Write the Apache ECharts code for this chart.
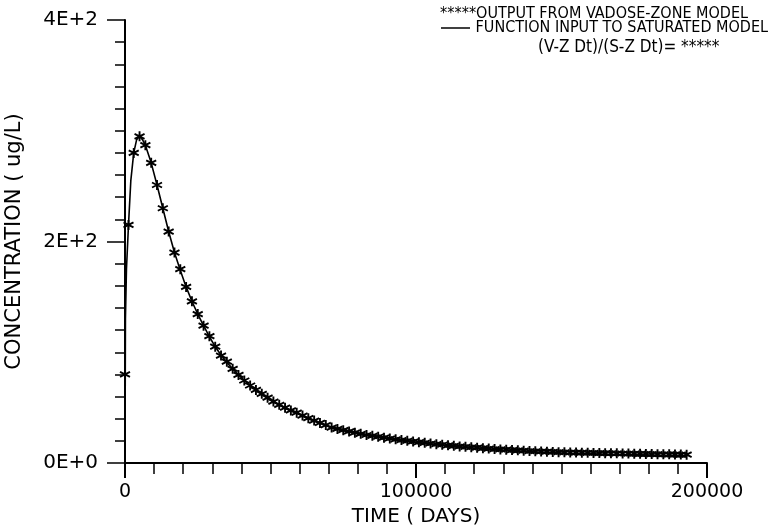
<!DOCTYPE html>
<html>
<head>
<meta charset="utf-8">
<script src="https://cdn.jsdelivr.net/npm/echarts@6/dist/echarts.min.js"></script>
<style>
html,body{margin:0;padding:0;background:#fff;}
#chart{width:772px;height:529px;}
</style>
</head>
<body>
<div id="chart"></div>
<script>
// ---- data ----
const xTickLabels = ['0', '100000', '200000'];
const yTickLabels = ['0E+0', '2E+2', '4E+2'];
const xAxisTitle = 'TIME ( DAYS)';
const yAxisTitle = 'CONCENTRATION ( ug/L)';
const legendOutput = '*****OUTPUT FROM VADOSE-ZONE MODEL';
const legendFunction = 'FUNCTION INPUT TO SATURATED MODEL';
const legendRatio = '(V-Z Dt)/(S-Z Dt)= *****';

// OUTPUT FROM VADOSE-ZONE MODEL (asterisk markers)
const markerTimes = [0, 1200, 3000, 5000, 7000, 9000, 11000, 13000, 15000, 17000, 19000,
  21000, 23000, 25000, 27000, 29000, 31000, 33000, 35000, 37000, 39000,
  41000, 43000, 45000, 47000, 49000, 51000, 53000, 55000, 57000, 59000,
  61000, 63000, 65000, 67000, 69000, 71000, 73000, 75000, 77000, 79000,
  81000, 83000, 85000, 87000, 89000, 91000, 93000, 95000, 97000, 99000,
  101000, 103000, 105000, 107000, 109000, 111000, 113000, 115000, 117000, 119000,
  121000, 123000, 125000, 127000, 129000, 131000, 133000, 135000, 137000, 139000,
  141000, 143000, 145000, 147000, 149000, 151000, 153000, 155000, 157000, 159000,
  161000, 163000, 165000, 167000, 169000, 171000, 173000, 175000, 177000, 179000,
  181000, 183000, 185000, 187000, 189000, 191000, 193000];
const markerValues = [80, 215, 280, 295, 287, 271, 251, 230, 209, 190, 175,
  159, 146, 134.5, 124, 114.5, 105, 97, 91.5, 85, 79.5,
  74.5, 70, 66, 62.5, 59, 55.5, 52.5, 50, 47.5, 45.4,
  42.8, 40.5, 38.3, 36.2, 34.2, 32, 30.8, 29.6, 28.5, 27.4,
  26.3, 25.3, 24.5, 23.7, 22.9, 22.1, 21.4, 20.7, 20.0, 19.4,
  18.8, 18.2, 17.6, 17.0, 16.5, 16.0, 15.5, 15.0, 14.6, 14.2,
  13.8, 13.4, 13.0, 12.6, 12.3, 12.0, 11.7, 11.4, 11.1, 10.8,
  10.6, 10.4, 10.2, 10.0, 9.8, 9.6, 9.5, 9.4, 9.3, 9.2,
  9.1, 9.0, 8.9, 8.8, 8.7, 8.6, 8.5, 8.4, 8.3, 8.2,
  8.1, 8.0, 7.9, 7.8, 7.7, 7.6, 7.5];

// FUNCTION INPUT TO SATURATED MODEL (solid line)
const lineTimes = [0, 150, 500, 1200, 2000, 3000, 4000, 5000, 6000,
  7000, 9000, 11000, 13000, 15000, 17000, 19000,
  21000, 23000, 25000, 27000, 29000, 31000, 33000, 35000, 37000, 39000,
  41000, 43000, 45000, 47000, 49000, 51000, 53000, 55000, 57000, 59000,
  61000, 63000, 65000, 67000, 69000, 71000, 73000, 75000, 77000, 79000,
  81000, 83000, 85000, 87000, 89000, 91000, 93000, 95000, 97000, 99000,
  101000, 103000, 105000, 107000, 109000, 111000, 113000, 115000, 117000, 119000,
  121000, 123000, 125000, 127000, 129000, 131000, 133000, 135000, 137000, 139000,
  141000, 143000, 145000, 147000, 149000, 151000, 153000, 155000, 157000, 159000,
  161000, 163000, 165000, 167000, 169000, 171000, 173000, 175000, 177000, 179000,
  181000, 183000, 185000, 187000, 189000, 191000, 193000];
const lineValues = [0, 130, 175, 215, 255, 280, 292, 295, 292,
  287, 271, 251, 230, 209, 190, 174,
  159, 146, 134.5, 124, 114, 105, 97.5, 91, 85, 79.5,
  74.5, 70, 66, 62, 58.5, 55.5, 52.5, 49.5, 47, 45,
  42.5, 40, 38, 36, 34, 32, 30.6, 29.4, 28.2, 27.1,
  26.1, 25.1, 24.2, 23.4, 22.6, 21.8, 21.1, 20.4, 19.7, 19.1,
  18.5, 17.9, 17.3, 16.7, 16.2, 15.7, 15.2, 14.7, 14.3, 13.8,
  13.4, 13.0, 12.6, 12.2, 11.8, 11.5, 11.2, 10.9, 10.6, 10.3,
  10.0, 9.8, 9.5, 9.3, 9.0, 8.8, 8.6, 8.4, 8.2, 8.0,
  7.8, 7.6, 7.5, 7.3, 7.1, 7.0, 6.8, 6.7, 6.5, 6.4,
  6.3, 6.1, 6.0, 5.9, 5.8, 5.7, 5.6];

// ---- chart ----
const FONT = 'DejaVu Sans';
const LEGEND_FONT = '"DejaVu Sans Condensed", "DejaVu Sans"';
const chart = echarts.init(document.getElementById('chart'), null, {renderer: 'canvas'});
const asterisk = 'path://M5 0 L5 10 M0.7 2.5 L9.3 7.5 M0.7 7.5 L9.3 2.5';

const option = {
  backgroundColor: '#ffffff',
  animation: false,
  grid: {left: 125, right: 65, top: 20, bottom: 66, containLabel: false, outerBoundsMode: 'none'},
  xAxis: {
    type: 'value', min: 0, max: 200000, interval: 100000,
    name: xAxisTitle, nameLocation: 'middle', nameGap: 44,
    nameTextStyle: {fontFamily: FONT, fontSize: 20, color: '#000'},
    axisLine: {show: true, lineStyle: {color: '#000', width: 2}},
    axisTick: {show: true, length: 15, lineStyle: {color: '#000', width: 2}},
    minorTick: {show: true, splitNumber: 10, length: 11, lineStyle: {color: '#000', width: 1.5}},
    splitLine: {show: false},
    axisLabel: {
      margin: 20, fontFamily: FONT, fontSize: 19, color: '#000',
      formatter: (v) => xTickLabels[Math.round(v / 100000)]
    }
  },
  yAxis: {
    type: 'value', min: 0, max: 400, interval: 200,
    name: yAxisTitle, nameLocation: 'middle', nameGap: 100, nameRotate: 90,
    nameTextStyle: {fontFamily: FONT, fontSize: 21, color: '#000'},
    axisLine: {show: true, lineStyle: {color: '#000', width: 2}},
    axisTick: {show: true, length: 18, lineStyle: {color: '#000', width: 1.5}},
    minorTick: {show: true, splitNumber: 10, length: 10, lineStyle: {color: '#000', width: 1.5}},
    splitLine: {show: false},
    axisLabel: {
      margin: 27, fontFamily: FONT, fontSize: 20, color: '#000',
      formatter: (v) => yTickLabels[Math.round(v / 200)]
    }
  },
  series: [
    {
      name: legendFunction,
      type: 'line',
      data: lineTimes.map((t, i) => [t, lineValues[i]]),
      showSymbol: false,
      lineStyle: {color: '#000', width: 1.6},
      z: 2
    },
    {
      name: legendOutput,
      type: 'scatter',
      data: markerTimes.map((t, i) => [t, markerValues[i]]),
      symbol: asterisk,
      symbolSize: 10,
      itemStyle: {color: 'rgba(0,0,0,0)', borderColor: '#000', borderWidth: 1.9, opacity: 1},
      z: 3
    }
  ],
  graphic: [
    {type: 'text', right: 24, top: 6,
      style: {text: legendOutput, font: '16px ' + LEGEND_FONT, fill: '#000'}},
    {type: 'line', shape: {x1: 441, y1: 28, x2: 470, y2: 28}, style: {stroke: '#000', lineWidth: 1.5}},
    {type: 'text', right: 4, top: 20,
      style: {text: legendFunction, font: '16px ' + LEGEND_FONT, fill: '#000'}},
    {type: 'text', left: 538, top: 39,
      style: {text: legendRatio, font: '17px ' + LEGEND_FONT, fill: '#000'}}
  ]
};
chart.setOption(option);
</script>
</body>
</html>
